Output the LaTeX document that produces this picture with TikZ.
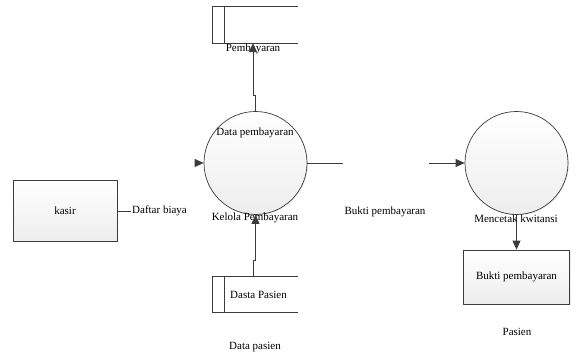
\documentclass[tikz,border=0pt]{standalone}
\usepackage{fontspec}
\setmainfont{Liberation Serif}
\usetikzlibrary{arrows.meta,shadows}
\definecolor{linegray}{HTML}{3C3C3C}

\begin{document}
\begin{tikzpicture}[x=1pt,y=-1pt,>={Triangle[length=9pt,width=8pt]},
  flow/.style={draw=linegray,line width=0.8pt},
  process node/.style={circle,draw=linegray,line width=0.7pt,minimum size=103pt,inner sep=0pt,
    top color=white,bottom color=gray!14,drop shadow={opacity=0.15,shadow xshift=1pt,shadow yshift=-1pt}},
  entity node/.style={rectangle,draw=linegray,line width=0.7pt,inner sep=0pt,
    top color=white,bottom color=gray!14,drop shadow={opacity=0.15,shadow xshift=1pt,shadow yshift=-1pt}},
  store node/.style={minimum width=85pt,minimum height=36pt,inner sep=0pt},
  label node/.style={font=\fontsize{11}{13}\selectfont,inner sep=1pt}]

  \useasboundingbox (0,0) rectangle (579,358);

  \node[entity node,minimum width=104pt,minimum height=61pt] (kasir) at (65,211) {\fontsize{11}{13}\selectfont kasir};
  \node[process node] (kelola) at (255.5,163) {};
  \node[process node] (cetak) at (516.5,163) {};
  \node[entity node,minimum width=106pt,minimum height=54pt] (pasien) at (516.5,277) {\fontsize{11}{13}\selectfont Bukti pembayaran};
  \node[store node] (dsbayar) at (255.5,25) {};
  \node[store node,font=\fontsize{11}{13}\selectfont] (dspasien) at (255.5,294.5) {\hspace*{6pt}Dasta Pasien};

  % data stores
  \foreach \s in {dsbayar,dspasien} {
    \draw[flow,line width=0.7pt] (\s.north east) -- (\s.north west) -- (\s.south west) -- (\s.south east);
    \draw[flow,line width=0.7pt] ([xshift=12pt]\s.north west) -- ([xshift=12pt]\s.south west);
  }

  \node[label node] (lbayar) at (253,49) {Pembayaran};
  \node[label node] (ldata) at (255,133) {Data pembayaran};
  \node[label node] (lkelola) at (255,218) {Kelola Pembayaran};
  \node[label node,anchor=west] (lbiaya) at (131,211) {Daftar biaya};
  \node[label node] (lbukti) at (385,212) {Bukti pembayaran};
  \node[label node] (lcetak) at (516,219) {Mencetak kwitansi};
  \node[label node] (lpasien) at (517,332) {Pasien};
  \node[label node] (ldpasien) at (255,347) {Data pasien};

  \coordinate (inkelola) at (195,163);
  \coordinate (outkelola) at (343,163);
  \coordinate (incetak) at (429,163);

  \draw[flow] (kasir) -- (lbiaya.west);
  \draw[flow] (kelola) -- (outkelola);
  \draw[flow,->] (inkelola) -- (kelola);
  \draw[flow,->] (incetak) -- (cetak);
  \draw[flow,->] (cetak) -- (pasien);

  \draw[flow,->] (kelola.north) -- +(0,-16) -| ([xshift=-2.5pt]dsbayar.south);
  \draw[flow,->] ([xshift=-2.5pt]dspasien.north) -- +(0,-16) -| (kelola.south);
\end{tikzpicture}
\end{document}
